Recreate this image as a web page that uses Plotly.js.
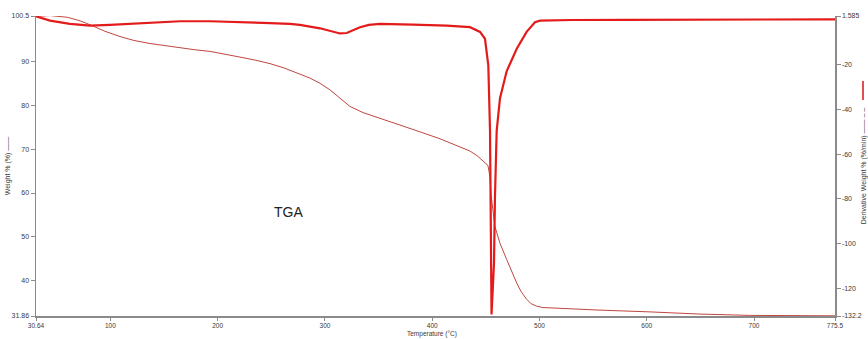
<!DOCTYPE html>
<html>
<head>
<meta charset="utf-8">
<script src="https://cdn.plot.ly/plotly-3.0.1.min.js"></script>
<style>html,body{margin:0;padding:0;background:#fff;}#chart{width:868px;height:339px;}</style>
</head>
<body>
<div id="chart"></div>
<script>
// Weight % curve (TGA)
const weightTemp = [30.64, 43.7, 60, 71.7, 81.0, 95, 108.9, 122, 136.9, 150, 164.9, 178, 192.9, 207, 220.8, 235, 248.8, 262, 274, 286, 295.4, 304.7, 314, 323.4, 335.5, 351.3, 370, 388.6, 407.3, 426, 435.2, 442, 447.3, 452, 453.9, 454.8, 458.5, 463.2, 469.4, 474, 478.8, 483, 488, 492, 497.4, 503, 510, 519, 556.4, 603, 649.6, 696, 743, 775.5];
const weightPct  = [100.4, 100.6, 100.2, 99.4, 98.5, 97.0, 95.8, 94.9, 94.2, 93.7, 93.2, 92.8, 92.4, 91.8, 91.1, 90.4, 89.6, 88.6, 87.5, 86.3, 85.1, 83.6, 81.7, 79.8, 78.4, 77.1, 75.7, 74.0, 72.4, 70.6, 69.6, 68.5, 67.4, 66.3, 63.6, 59.7, 52.3, 48.5, 44.8, 42.0, 39.4, 37.4, 35.7, 34.7, 34.1, 33.8, 33.7, 33.6, 33.2, 32.8, 32.3, 32.0, 31.95, 31.9];

// Derivative weight % curve (DTG)
const derivTemp = [30.64, 43.7, 62.3, 81, 99.6, 118.3, 136.9, 164.9, 192.9, 211.5, 242.3, 267.4, 276.7, 295.4, 305, 314, 320.3, 326, 332.6, 341, 351.3, 382, 413.5, 435.2, 444.6, 449.2, 452.3, 453.9, 454.6, 455.3, 457.6, 458.5, 460.1, 463.2, 469.4, 478.8, 488, 495.8, 500.5, 530, 580, 630, 680, 730, 775.5];
const derivVal  = [1.45, -0.49, -1.95, -2.70, -2.39, -1.95, -1.51, -0.75, -0.75, -0.93, -1.51, -1.95, -2.40, -3.9, -5.1, -6.2, -6.0, -4.9, -3.4, -2.4, -1.95, -2.26, -2.70, -3.40, -5.5, -8.57, -20.4, -49.6, -93.8, -131.5, -108.8, -79.2, -49.6, -35.1, -23.1, -13.0, -5.48, -1.20, -0.49, -0.2, -0.1, -0.05, 0.0, 0.05, 0.1];

const xTickVals = [30.64, 100, 200, 300, 400, 500, 600, 700, 775.5];
const xTickText = ['30.64', '100', '200', '300', '400', '500', '600', '700', '775.5'];
const yTickVals = [31.86, 40, 50, 60, 70, 80, 90, 100.5];
const yTickText = ['31.86', '40', '50', '60', '70', '80', '90', '100.5'];
const y2TickVals = [-132.2, -120, -100, -80, -60, -40, -20, 1.585];
const y2TickText = ['-132.2', '-120', '-100', '-80', '-60', '-40', '-20', '1.585'];

const FAM = 'Liberation Sans, Arial, sans-serif';
function f(size, color) { return {family: FAM, size: size, color: color || '#3a3a3a'}; }
function axisCommon() {
  return {
    showgrid: false, zeroline: false, showline: true, linecolor: '#8a8a8a', linewidth: 1.5,
    ticks: 'outside', ticklen: 4, tickcolor: '#8a8a8a', tickfont: f(7), tickmode: 'array'
  };
}

const data = [
  {x: weightTemp, y: weightPct, type: 'scatter', mode: 'lines', name: 'Weight %',
   line: {color: '#c0463f', width: 1}, yaxis: 'y'},
  {x: derivTemp, y: derivVal, type: 'scatter', mode: 'lines', name: 'Derivative Weight %',
   line: {color: '#e31b1b', width: 2.2}, yaxis: 'y2'}
];

const M = {l: 36, r: 33, t: 16, b: 23};
const plotH = 339 - M.t - M.b;
const plotW = 868 - M.l - M.r;

const layout = {
  width: 868, height: 339,
  margin: M,
  paper_bgcolor: '#fff', plot_bgcolor: '#fff',
  showlegend: false,
  font: f(7),
  xaxis: Object.assign(axisCommon(), {
    range: [30.64, 775.5], tickvals: xTickVals, ticktext: xTickText, ticklen: 3, tickfont: f(6.5)
  }),
  yaxis: Object.assign(axisCommon(), {
    range: [31.86, 100.5], tickvals: yTickVals, ticktext: yTickText,
    title: {text: 'Weight % (%) ——', font: f(7), standoff: 0}
  }),
  yaxis2: Object.assign(axisCommon(), {
    range: [-132.2, 1.585], tickvals: y2TickVals, ticktext: y2TickText,
    overlaying: 'y', side: 'right',
    title: {text: 'Derivative Weight % (%/min) —— – –', font: f(7), standoff: 0}
  }),
  annotations: [
    {x: (272 - M.l) / plotW, y: (339 - M.b - 222) / plotH, xref: 'paper', yref: 'paper', text: 'TGA', showarrow: false,
     font: f(14, '#222')},
    {x: (432 - M.l) / plotW, y: -M.b / plotH, xref: 'paper', yref: 'paper', text: 'Temperature (°C)',
     showarrow: false, yanchor: 'bottom', borderpad: 0, font: f(6.5)}
  ],
  shapes: [
    {type: 'line', xref: 'paper', yref: 'paper', x0: (863 - M.l) / plotW, x1: (863 - M.l) / plotW,
     y0: (339 - M.b - 100) / plotH, y1: (339 - M.b - 81) / plotH,
     line: {color: '#e05050', width: 2}}
  ]
};

Plotly.newPlot('chart', data, layout, {displayModeBar: false, staticPlot: true});
</script>
</body>
</html>
